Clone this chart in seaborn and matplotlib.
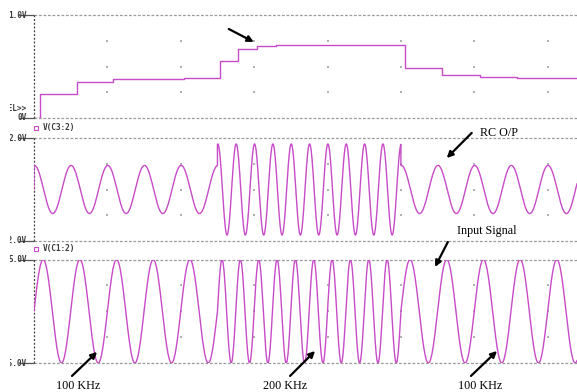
import numpy as np
import pandas as pd
import matplotlib.pyplot as plt
import seaborn as sns
from matplotlib.transforms import Bbox, TransformedBbox, blended_transform_factory

# top trace: staircase (time in us, volts)
step_t_us = [0, 1.6, 11.7, 21.6, 41.0, 50.6, 55.6, 60.8, 66.0, 101.0, 111.3, 121.5, 131.6, 148]
step_v = [0, 0.233, 0.352, 0.376, 0.386, 0.553, 0.670, 0.700, 0.712, 0.490, 0.417, 0.395, 0.386, 0.386]

# input signal: three frequency segments
seg_start_us = [0, 50, 100]
seg_end_us = [50, 100, 148]
seg_freq_khz = [100, 200, 100]
input_amp_v = 5.0

# RC output
rc_amp_v = [0.94, 1.78, 0.94]
rc_lead_deg = [86, 82, 86]

panel_ylim = [(0, 1), (-2, 2), (-5, 5)]
top_labels = ['1.0V', '2.0V', '5.0V']
bot_labels = ['0V', '-2.0V', '-5.0V']
trace_names = ['V(C3:2)', 'V(C1:2)']

sns.set_style('white')
plt.rcParams['font.family'] = ['DejaVu Sans']

wave = '#c84bc8'
mono = dict(family='DejaVu Sans Mono', size=5.6, weight='bold', color='#3a3a3a')
serif = dict(family='Liberation Serif', size=8.7, color='black')

# build sampled waveforms from the segment table
rows = [dict(t=0.0, inp=0.0, rc=0.0)]
for t0, t1, f, a, ld in zip(seg_start_us, seg_end_us, seg_freq_khz, rc_amp_v, rc_lead_deg):
    t = np.linspace(t0, t1, int((t1 - t0) * 25))
    ph = 2 * np.pi * f / 1000.0 * (t - t0)
    for ti, inp, rc in zip(t, input_amp_v * np.sin(ph), a * np.sin(ph + np.radians(ld))):
        rows.append(dict(t=ti, inp=inp, rc=rc))
df = pd.DataFrame(rows)
steps = pd.DataFrame({'t': step_t_us, 'v': step_v})

fig = plt.figure(figsize=(5.77, 3.92), dpi=100)
W, H = 577, 392
boxes = [(15, 118), (138.3, 240.7), (259.5, 363)]
axes = []
for top, bot in boxes:
    axes.append(fig.add_axes([34 / W, (H - bot) / H, (W - 34) / W, (bot - top) / H]))
ax1, ax2, ax3 = axes

sns.lineplot(data=steps, x='t', y='v', ax=ax1, color=wave, lw=1.0, drawstyle='steps-post')
sns.lineplot(data=df, x='t', y='rc', ax=ax2, color=wave, lw=1.0, estimator=None, sort=False)
sns.lineplot(data=df, x='t', y='inp', ax=ax3, color=wave, lw=1.0, estimator=None, sort=False)

clip = TransformedBbox(Bbox.from_extents(10 / W, 0, 1, 1), fig.transFigure)
grid_x = np.arange(20, 141, 20)
for ax, (lo, hi), tl, bl in zip(axes, panel_ylim, top_labels, bot_labels):
    ax.set_xlim(0, 148)
    ax.set_ylim(lo, hi)
    ax.set_xlabel('')
    ax.set_ylabel('')
    ax.set_xticks([])
    ax.set_yticks([])
    for s in ax.spines.values():
        s.set_visible(False)
    for yv in (lo, hi):
        ax.axhline(yv, color='#9a9a9a', lw=0.9, ls=(0, (2.2, 1.4)), clip_on=False, zorder=1)
        ax.plot([-4.2, 0], [yv, yv], color='#555555', lw=0.9, clip_on=False)
    ax.axvline(0, color='#444444', lw=0.9, ls=(0, (1.6, 1.4)), clip_on=False, zorder=1)
    gy = [lo + (hi - lo) * k / 4 for k in (1, 2, 3)]
    gx, gyy = np.meshgrid(grid_x, gy)
    ax.scatter(gx.ravel(), gyy.ravel(), s=1.2, color='#b0b0b0', marker='s', linewidths=0)
    tr = blended_transform_factory(fig.transFigure, ax.transData)
    for txt, yv in ((tl, hi), (bl, lo)):
        t = fig.text(27 / W, yv, txt, transform=tr, ha='right', va='center', **mono)
        t.set_clip_box(clip)
        t.set_clip_on(True)

t = fig.text(27 / W, 0.097, 'SEL>>', transform=blended_transform_factory(fig.transFigure, ax1.transData),
             ha='right', va='center', **mono)
t.set_clip_box(clip)
t.set_clip_on(True)

# trace names above the lower two panels
for ax, name in zip((ax2, ax3), trace_names):
    ax.plot([0.45], [1.105], transform=ax.transAxes, clip_on=False, marker='s', ms=2.6,
            mfc='none', mec=wave, mew=0.8, ls='none')
    ax.text(0.0165, 1.105, name, transform=ax.transAxes, ha='left', va='center', **mono)
ax2.lines[-1].set_xdata([0.0035])
ax3.lines[-1].set_xdata([0.0035])

arrow = dict(arrowstyle='-|>', color='black', lw=1.6, mutation_scale=9, shrinkA=0, shrinkB=0)


def point(ax, tail, head):
    ax.annotate('', xy=head, xytext=tail, xycoords='data', textcoords='data',
                arrowprops=arrow, annotation_clip=False)


point(ax1, (53.1, 0.864), (59.9, 0.738))
point(ax2, (119.3, 2.21), (112.5, 1.23))
ax2.text(126.7, 2.21, 'RC O/P', ha='center', va='center', clip_on=False, **serif)
point(ax3, (112.8, 6.69), (109.3, 4.28))
ax3.text(123.4, 7.75, 'Input Signal', ha='center', va='center', clip_on=False, **serif)
for (tx, lab), tail, head in [((12.0, '100 KHz'), (10.35, -6.25), (17.2, -3.93)),
                              ((68.4, '200 KHz'), (69.8, -6.25), (76.6, -3.84)),
                              ((121.5, '100 KHz'), (119.1, -6.25), (126.2, -3.84))]:
    point(ax3, tail, head)
    ax3.text(tx, -7.25, lab, ha='center', va='center', clip_on=False, **serif)

fig.savefig('out.png', dpi=100)
